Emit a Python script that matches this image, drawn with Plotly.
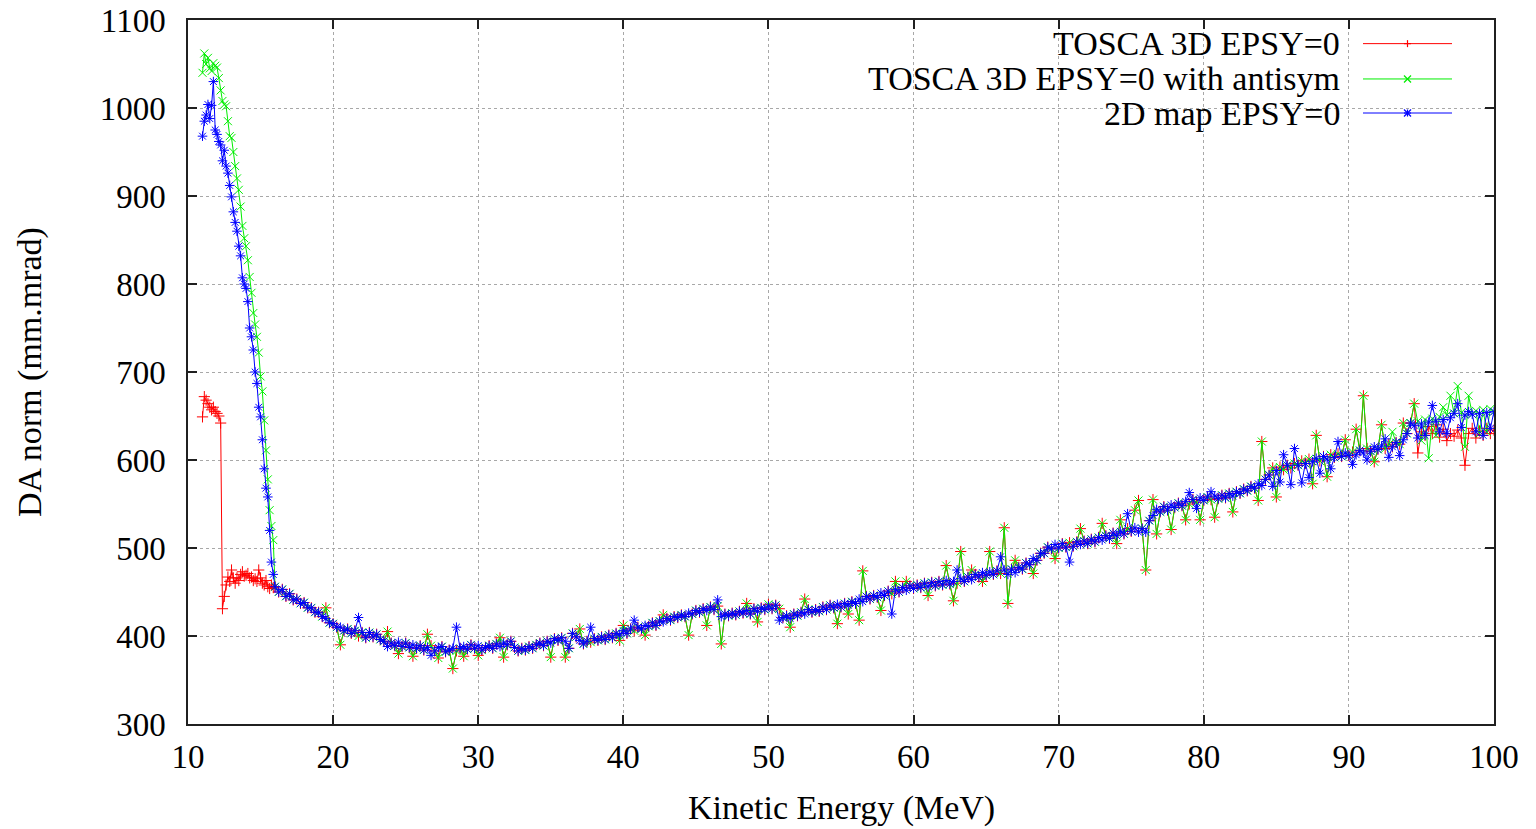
import plotly.graph_objects as go

# ---------------- data ----------------
# early section, energies 11.0 .. 15.875 MeV (step 0.125)
x_early_start = 11.0
x_early_step = 0.125
red_early = [649, 672, 668, 664, 660, 657, 660, 655, 653, 650,
             642, 431, 445, 458, 467, 462, 475, 466, 460, 466,
             463, 470, 473, 468, 469, 471, 466, 467, 463, 465,
             462, 475, 466, 460, 458, 463, 456, 454, 458, 455]
green_early = [1040, 1062, 1050, 1057, 1045, 1042, 1051, 1048, 1046, 1034,
               1020, 1008, 1004, 1002, 985, 968, 966, 950, 934, 920,
               907, 888, 866, 852, 843, 827, 808, 790, 767, 754,
               740, 722, 695, 678, 645, 611, 578, 543, 525, 509]
blue_early = [968, 985, 992, 1004, 988, 1003, 1030, 975, 970, 962,
              958, 940, 952, 934, 926, 912, 899, 882, 870, 860,
              843, 832, 807, 800, 795, 780, 750, 740, 725, 700,
              687, 660, 649, 623, 590, 568, 558, 520, 484, 470]

# common band, energies 16.0 .. 100.0 MeV (step 0.25)
x_band_start = 16.0
x_band_step = 0.25
band = [
    456, 450, 453, 445, 448, 441, 442, 437, 438, 432, 432, 427, 427, 422, 420, 415, 414, 410, 410, 406,
    408, 403, 406, 400, 404, 398, 404, 399, 402, 396, 394, 388, 392, 389, 393, 388, 392, 387, 390, 386,
    389, 384, 387, 389, 383, 387, 388, 382, 384, 386, 383, 386, 388, 385, 390, 386, 389, 384, 387, 389,
    386, 391, 388, 392, 390, 394, 387, 383, 386, 384, 388, 386, 390, 392, 389, 394, 392, 397, 395, 398,
    394, 386, 403, 399, 395, 391, 394, 393, 397, 395, 399, 396, 401, 398, 403, 401, 406, 403, 408, 406,
    410, 408, 412, 411, 415, 412, 417, 416, 420, 418, 422, 421, 424, 422, 426, 425, 429, 427, 431, 429,
    433, 430, 434, 422, 425, 423, 426, 424, 428, 426, 429, 425, 431, 428, 432, 430, 434, 431, 435, 431,
    421, 423, 420, 425, 423, 427, 425, 430, 427, 430, 428, 433, 430, 435, 432, 436, 433, 437, 435, 439,
    437, 442, 439, 445, 442, 446, 444, 449, 446, 451, 448, 453, 450, 455, 452, 457, 454, 458, 455, 460,
    456, 461, 457, 462, 458, 463, 459, 462, 460, 465, 462, 467, 464, 470, 467, 472, 469, 473, 470, 474,
    471, 475, 470, 476, 472, 478, 476, 483, 481, 488, 486, 494, 494, 501, 499, 504, 500, 505, 501, 506,
    502, 507, 504, 508, 505, 510, 507, 512, 509, 514, 511, 517, 514, 519, 516, 522, 519, 523, 518, 522,
    518, 531, 537, 544, 541, 547, 543, 549, 546, 551, 548, 553, 550, 555, 552, 557, 554, 558, 555, 559,
    556, 560, 557, 562, 559, 564, 562, 567, 565, 570, 568, 573, 571, 578, 583, 591, 588, 592, 589, 594,
    591, 596, 594, 599, 596, 601, 598, 602, 599, 604, 601, 606, 603, 607, 604, 608, 605, 609, 606, 611,
    608, 613, 610, 615, 612, 616, 613, 618, 615, 620, 618, 623, 630, 642, 639, 644, 641, 646, 643, 647,
    644, 649, 646, 651, 648, 653, 650, 654, 651, 655, 652, 656, 653, 657, 654, 658, 655,
]

# outliers of the TOSCA runs (shared by red and green)
tosca_spikes = {
    19.5: 432, 20.5: 390, 23.75: 405, 24.5: 380, 25.5: 377, 26.5: 402, 27.25: 375, 28.25: 363,
    29.0: 377, 30.0: 378, 31.5: 398, 31.75: 376, 35.0: 376, 36.0: 376, 37.0: 408, 39.75: 395,
    40.0: 412, 41.5: 401, 42.75: 424, 44.5: 401, 45.75: 412, 46.75: 391, 48.5: 437, 49.25: 416,
    50.0: 436, 51.5: 410, 52.5: 442, 54.75: 414, 55.5: 425, 56.25: 418, 56.5: 474, 57.75: 429,
    58.75: 462, 59.5: 462, 61.0: 446, 62.25: 480, 62.75: 440, 63.25: 496, 64.0: 475, 64.75: 462,
    65.25: 496, 66.25: 523, 66.5: 437, 67.0: 486, 68.25: 471, 69.75: 488, 71.5: 522, 73.0: 528,
    74.0: 505, 74.25: 532, 75.25: 543, 75.5: 554, 76.0: 475, 76.5: 555, 76.75: 516, 77.75: 521,
    78.75: 532, 79.75: 532, 80.75: 535, 82.0: 541, 83.75: 554, 84.0: 621, 85.0: 558, 87.5: 573,
    87.75: 628, 88.5: 581, 89.75: 623, 90.5: 635, 91.0: 673, 91.75: 598, 92.25: 640, 93.75: 642,
    94.5: 664,
}
green_spikes = {93.0: 632, 95.5: 602, 96.5: 660, 97.0: 673, 97.5: 684, 98.0: 615, 98.25: 673,
                95.0: 622, 96.0: 628, 99.0: 630, 99.5: 632}
# red tail 94.75 .. 100 MeV (step 0.25)
red_tail_start = 94.75
red_tail = [608, 632, 628, 638, 630, 640, 626, 635, 622, 630, 627,
            634, 625, 594, 630, 636, 625, 633, 628, 636, 630, 634]
blue_spikes = {
    21.75: 421, 26.75: 378, 28.5: 410, 37.75: 410, 40.75: 418, 46.5: 441, 50.75: 418, 58.5: 425,
    63.0: 475, 66.0: 490, 70.75: 484, 74.75: 539, 79.0: 563, 79.5: 545, 80.5: 564, 84.75: 570,
    85.25: 575, 85.5: 606, 86.0: 572, 86.25: 613, 86.75: 574, 87.25: 580, 88.0: 585, 88.75: 590,
    89.25: 621, 90.25: 595, 91.25: 600, 92.5: 624, 92.75: 603, 93.5: 605, 94.75: 625, 95.25: 628,
    95.75: 662, 96.25: 632, 96.75: 630, 97.5: 664, 97.75: 637, 98.75: 632, 99.25: 628, 99.75: 636,
}

series_names = ["TOSCA 3D EPSY=0", "TOSCA 3D EPSY=0 with antisym", "2D map EPSY=0"]
series_colors = ["#ff0000", "#00ee00", "#0000ff"]

x_ticks = [10, 20, 30, 40, 50, 60, 70, 80, 90, 100]
y_ticks = [300, 400, 500, 600, 700, 800, 900, 1000, 1100]

# ---------------- assemble series ----------------
x_early = [x_early_start + x_early_step * i for i in range(len(blue_early))]
x_band = [x_band_start + x_band_step * i for i in range(len(band))]


def idx(x):
    return int(round((x - x_band_start) / x_band_step))


def with_overrides(base, *dicts):
    vals = list(base)
    for d in dicts:
        for k, v in d.items():
            vals[idx(k)] = v
    return vals


red_band = with_overrides(band, tosca_spikes)
for i, v in enumerate(red_tail):
    red_band[idx(red_tail_start) + i] = v
green_band = with_overrides(band, tosca_spikes, green_spikes)
blue_band = with_overrides(band, blue_spikes)

xs = x_early + x_band
ys = [red_early + red_band, green_early + green_band, blue_early + blue_band]
symbols = ["cross-thin-open", "x-thin-open", "asterisk-open"]

FONT = "Liberation Serif, Times New Roman, serif"

fig = go.Figure()
for name, y, c, s in zip(series_names, ys, series_colors, symbols):
    fig.add_trace(go.Scatter(
        x=xs, y=y, name=name, mode="lines+markers",
        line=dict(color=c, width=1),
        marker=dict(symbol=s, size=8, color=c, line=dict(color=c, width=1)),
        showlegend=False,
    ))

# plot area in reference pixels (page has an 8px body margin, compensated below)
L, R, T, B = 188, 1494, 20.4, 723.6
OFF = 8
W, H = 1536 - OFF, 829 - OFF


def px(xp):
    return (xp - L) / (R - L)


def py(yp):
    return (B - yp) / (B - T)


shapes = []
# white legend box (between grid and traces)
shapes.append(dict(type="rect", xref="paper", yref="paper",
                   x0=px(765), x1=px(1470), y0=py(130), y1=py(21.5),
                   fillcolor="white", line=dict(width=0), layer="between"))

annotations = []
rows = [44, 79.3, 113.3]
for name, c, s, r in zip(series_names, series_colors, symbols, rows):
    annotations.append(dict(text=name, xref="paper", yref="paper", x=px(1342), y=py(r),
                            xanchor="right", yanchor="middle", showarrow=False,
                            font=dict(family=FONT, size=34, color="black")))
    shapes.append(dict(type="line", xref="paper", yref="paper", x0=px(1363), x1=px(1452),
                       y0=py(r), y1=py(r), line=dict(color=c, width=1), layer="above"))
    cx = 1407.5
    h = 3.5
    segs = []
    if s.startswith("cross") or s.startswith("asterisk"):
        segs += [((cx - h, r), (cx + h, r)), ((cx, r - h), (cx, r + h))]
    if s.startswith("x") or s.startswith("asterisk"):
        segs += [((cx - h, r - h), (cx + h, r + h)), ((cx - h, r + h), (cx + h, r - h))]
    for (a, b) in segs:
        shapes.append(dict(type="line", xref="paper", yref="paper",
                           x0=px(a[0]), y0=py(a[1]), x1=px(b[0]), y1=py(b[1]),
                           line=dict(color=c, width=1.2), layer="above"))

annotations.append(dict(text="Kinetic Energy (MeV)", xref="paper", yref="paper",
                        x=0.5, y=py(808), xanchor="center", yanchor="middle", showarrow=False,
                        font=dict(family=FONT, size=34, color="black")))
annotations.append(dict(text="DA norm (mm.mrad)", xref="paper", yref="paper",
                        x=px(30), y=0.5, xanchor="center", yanchor="middle", showarrow=False,
                        textangle=-90, font=dict(family=FONT, size=34, color="black")))

axis_common = dict(
    showgrid=True, gridcolor="#a8a8a8", griddash="dot", gridwidth=1,
    showline=True, linecolor="#202020", linewidth=1.5, mirror="ticks",
    ticks="inside", ticklen=9, tickcolor="#202020", tickwidth=1.5,
    zeroline=False, automargin=False, ticklabeloverflow="allow",
    tickfont=dict(family=FONT, size=33, color="black"),
)

fig.update_layout(
    width=W, height=H,
    margin=dict(l=L - OFF, r=W - (R - OFF), t=T - OFF, b=H - (B - OFF), pad=0),
    paper_bgcolor="white", plot_bgcolor="white",
    xaxis=dict(range=[10, 100], tickvals=x_ticks, ticktext=[str(v) for v in x_ticks],
               ticklabelstandoff=3, **axis_common),
    yaxis=dict(range=[300, 1100], tickvals=y_ticks, ticktext=[str(v) for v in y_ticks],
               ticklabelstandoff=14, **axis_common),
    shapes=shapes, annotations=annotations,
    font=dict(family=FONT, color="black"),
)

fig.write_html("out.html")
